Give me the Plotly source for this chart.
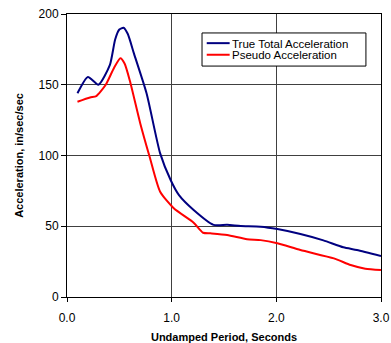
import plotly.graph_objects as go

period_true = [0.10, 0.20, 0.30, 0.41, 0.46, 0.50, 0.54, 0.58, 0.64, 0.76, 0.89, 0.99, 1.07, 1.21, 1.40, 1.53, 1.66, 1.85, 2.01, 2.23, 2.45, 2.64, 2.77, 3.00]
accel_true = [144, 155.5, 150, 164, 182, 189, 190.3, 186, 172, 144, 101.5, 82.7, 72, 61.5, 51, 51, 50.2, 49.7, 48, 44.5, 40, 35.1, 33.2, 29]

period_pseudo = [0.10, 0.22, 0.28, 0.37, 0.45, 0.51, 0.55, 0.60, 0.70, 0.79, 0.89, 1.02, 1.21, 1.30, 1.37, 1.53, 1.72, 1.85, 2.01, 2.23, 2.55, 2.71, 2.85, 3.00]
accel_pseudo = [138, 141, 142, 150, 162, 168.7, 165, 153, 122.7, 99, 74.4, 62.7, 52.5, 45.4, 45, 43.8, 40.8, 40.2, 38, 33.2, 27.3, 22.6, 20, 19]

series_names = ["True Total Acceleration", "Pseudo Acceleration"]
series_colors = ["#000080", "#FF0000"]

x_ticks = [0, 1, 2, 3]
x_labels = ["0.0", "1.0", "2.0", "3.0"]
y_ticks = [0, 50, 100, 150, 200]

fig = go.Figure()
fig.add_trace(go.Scatter(x=period_true, y=accel_true, mode="lines", name=series_names[0], showlegend=False,
                         line=dict(color=series_colors[0], width=2, shape="spline", smoothing=0.6)))
fig.add_trace(go.Scatter(x=period_pseudo, y=accel_pseudo, mode="lines", name=series_names[1], showlegend=False,
                         line=dict(color=series_colors[1], width=2, shape="spline", smoothing=0.6)))

# Title (mostly above the visible page, as in the reference)
fig.add_annotation(text="Effect of High Damping", xref="paper", yref="paper",
                   x=0.855, y=1.0, yshift=12, xanchor="right", yanchor="bottom", showarrow=False,
                   font=dict(family="Arial", size=24, color="#1F3FAF", weight="bold"))

# Compact legend box (Excel style)
fig.add_shape(type="rect", xref="paper", yref="paper", x0=0.430, x1=0.952, y0=0.816, y1=0.933,
              fillcolor="white", line=dict(color="black", width=1), layer="above")
legend_rows = [0.897, 0.856]
for name, color, yy in zip(series_names, series_colors, legend_rows):
    fig.add_shape(type="line", xref="paper", yref="paper", x0=0.445, x1=0.518, y0=yy, y1=yy,
                  line=dict(color=color, width=2), layer="above")
    fig.add_annotation(text=name, xref="paper", yref="paper", x=0.522, y=yy, xanchor="left",
                       yanchor="middle", showarrow=False, height=11, borderpad=0,
                       font=dict(family="Arial", size=11.5, color="black"))

fig.update_layout(
    width=391, height=343,
    margin=dict(l=67, r=10, t=14, b=46),
    paper_bgcolor="white", plot_bgcolor="white",
    font=dict(family="Arial", size=12, color="black"),
    showlegend=False,
    xaxis=dict(range=[0, 3], tickvals=x_ticks, ticktext=x_labels, showgrid=True, automargin=False,
               gridcolor="#404040", gridwidth=1, showline=True, linecolor="black", linewidth=1,
               mirror=True, ticks="outside", ticklen=4, tickcolor="black", zeroline=False,
               ticklabelstandoff=6, tickfont=dict(size=12),
               title=dict(text="<b>Undamped Period, Seconds</b>", font=dict(size=11), standoff=10)),
    yaxis=dict(range=[0, 200], tickvals=y_ticks, showgrid=True, gridcolor="#404040", gridwidth=1,
               showline=True, linecolor="black", linewidth=1, mirror=True, ticks="outside", automargin=False,
               ticklen=5, tickcolor="black", zeroline=False, tickfont=dict(size=12),
               title=dict(text="<b>Acceleration, in/sec/sec</b>", font=dict(size=11), standoff=12)),
)

fig.write_html("out.html", config={"displayModeBar": False},
               post_script="document.body.style.margin='0';document.body.style.overflow='hidden';")
